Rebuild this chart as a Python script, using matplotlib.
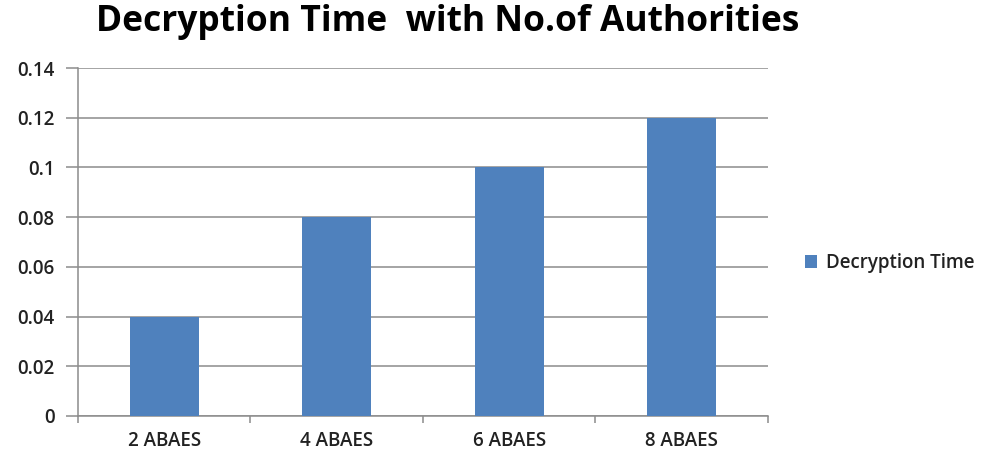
import numpy as np
import matplotlib.pyplot as plt

categories = ["2 ABAES", "4 ABAES", "6 ABAES", "8 ABAES"]
decryption_time = [0.04, 0.08, 0.10, 0.12]
y_ticks = [0, 0.02, 0.04, 0.06, 0.08, 0.1, 0.12, 0.14]

plt.rcParams['font.family'] = ['Open Sans', 'DejaVu Sans']

fig = plt.figure(figsize=(9.88, 4.54), dpi=100)
ax = fig.add_axes([0.079, 0.084, 0.698, 0.766])

x = np.arange(len(categories))
ax.bar(x, decryption_time, width=0.4, color="#4F81BD", label="Decryption Time", zorder=3)

ax.set_xlim(-0.5, len(categories) - 0.5)
ax.set_ylim(0, 0.14)
ax.set_yticks(y_ticks)
ax.set_yticklabels([f"{v:g}" for v in y_ticks], fontsize=13.5, fontweight="semibold", color="#222222")
ax.yaxis.grid(True, color="#8c8c8c", linewidth=1.1, zorder=0)

# category labels sit between the boundary tick marks
ax.set_xticks(x)
ax.set_xticklabels(categories, fontsize=13.5, fontweight="semibold", color="#222222")
ax.tick_params(axis="x", length=0, pad=11)
ax.set_xticks(np.arange(len(categories) + 1) - 0.5, minor=True)
ax.tick_params(axis="x", which="minor", length=5, color="#8c8c8c", width=1.1)
ax.tick_params(axis="y", length=9, color="#8c8c8c", width=1.1, pad=8)

for side in ("top", "right"):
    ax.spines[side].set_visible(False)
for side in ("left", "bottom"):
    ax.spines[side].set_color("#8c8c8c")
    ax.spines[side].set_linewidth(1.1)

fig.text(0.453, 0.952, "Decryption Time  with No.of Authorities", ha="center", va="center",
         fontsize=25.5, fontweight="bold", color="black")

leg = ax.legend(loc="center left", bbox_to_anchor=(1.03, 0.44), frameon=False,
                prop={"size": 13.5, "weight": "semibold"},
                handlelength=0.65, handleheight=0.65, handletextpad=0.45)
for t in leg.get_texts():
    t.set_color("#222222")

fig.savefig("out.png", dpi=100)
